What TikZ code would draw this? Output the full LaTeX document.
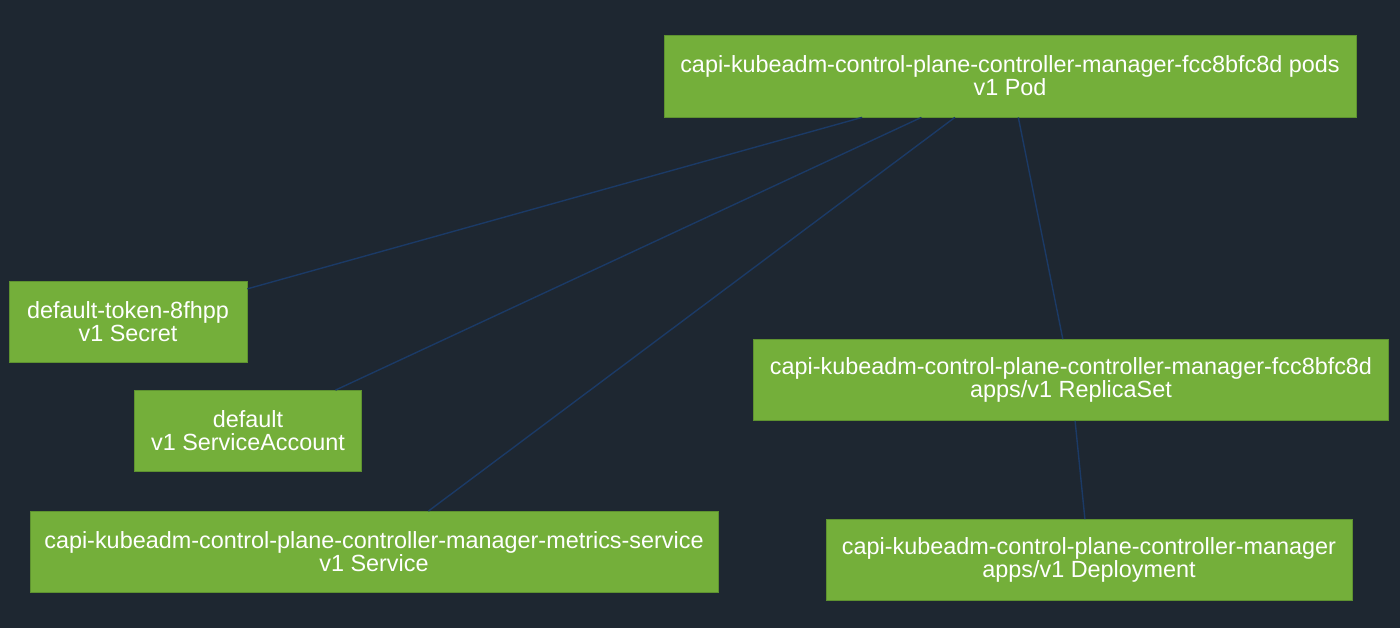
\documentclass[tikz,border=0pt]{standalone}
\usepackage{fontspec}
\setmainfont{Liberation Sans}
\definecolor{bgdark}{HTML}{1E2731}
\definecolor{kgreen}{HTML}{74AF3A}
\definecolor{kborder}{HTML}{5E9230}
\definecolor{kedge}{HTML}{1B3A66}
\tikzset{
  kobj/.style={rectangle, draw=kborder, line width=0.8pt, fill=kgreen, text=white, align=center, inner sep=0pt, font=\fontsize{23.4}{23}\selectfont},
  kline/.style={draw=kedge, line width=1.4pt}
}
\begin{document}
\begin{tikzpicture}[x=1pt, y=-1pt]
        \fill[bgdark] (0,0) rectangle (1400,628);
        \useasboundingbox (0,0) rectangle (1400,628);

        % Nodes
        \node (pod) [kobj, minimum width=692, minimum height=82] at (1010, 76) {capi-kubeadm-control-plane-controller-manager-fcc8bfc8d pods\\v1 Pod};
        \node (secret) [kobj, minimum width=238, minimum height=81] at (128, 322) {default-token-8fhpp\\v1 Secret};
        \node (sa) [kobj, minimum width=227, minimum height=81] at (248, 431) {default\\v1 ServiceAccount};
        \node (svc) [kobj, minimum width=688, minimum height=81] at (374, 552) {capi-kubeadm-control-plane-controller-manager-metrics-service\\v1 Service};
        \node (rs) [kobj, minimum width=635, minimum height=81] at (1071, 380) {capi-kubeadm-control-plane-controller-manager-fcc8bfc8d\\apps/v1 ReplicaSet};
        \node (deploy) [kobj, minimum width=526, minimum height=81] at (1089, 560) {capi-kubeadm-control-plane-controller-manager\\apps/v1 Deployment};

        % Edges
        \draw[kline] (pod) -- (secret);
        \draw[kline] (pod) -- (sa);
        \draw[kline] (pod) -- (svc);
        \draw[kline] (pod) -- (rs);
        \draw[kline] (rs) -- (deploy);
    \end{tikzpicture}
\end{document}
